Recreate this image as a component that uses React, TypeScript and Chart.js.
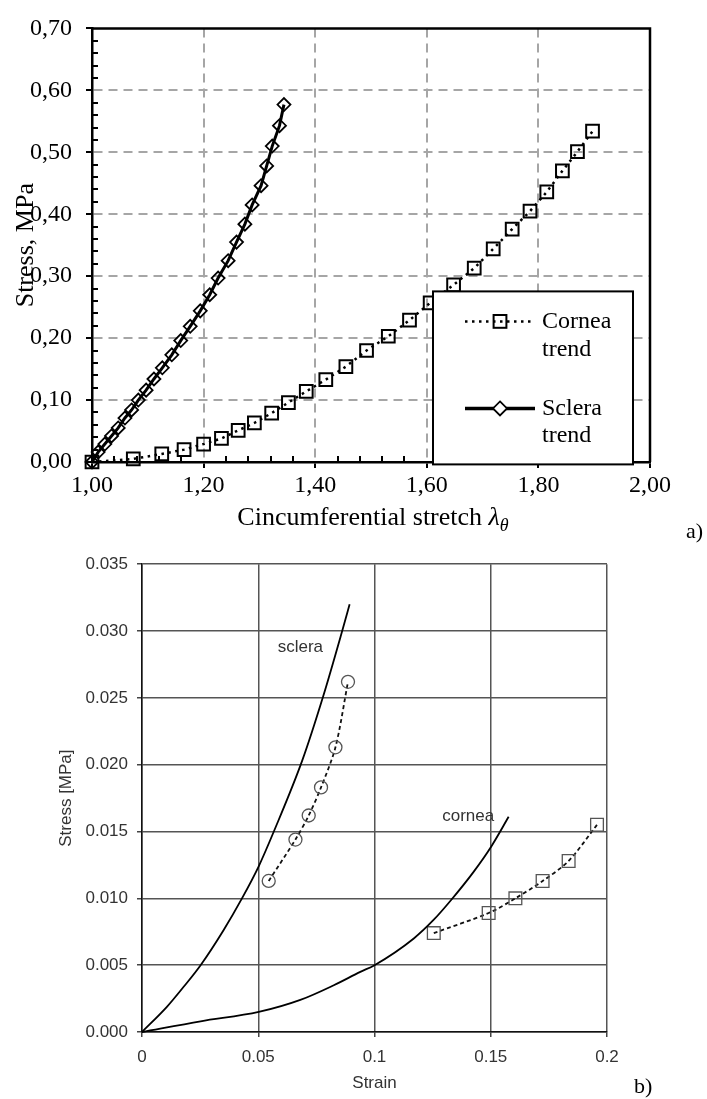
import React, { useEffect, useRef } from 'react';
import { Chart, registerables } from 'chart.js';
Chart.register(...registerables);

// ---------- Figure a) : stress vs circumferential stretch ----------
const corneaStretch = [1.0, 1.074, 1.125, 1.165, 1.2, 1.232, 1.262, 1.291, 1.322, 1.352, 1.384, 1.419, 1.455, 1.492, 1.531, 1.569, 1.606, 1.648, 1.685, 1.719, 1.753, 1.785, 1.815, 1.843, 1.87, 1.897];
const corneaStressA = [0.0, 0.005, 0.013, 0.02, 0.029, 0.038, 0.051, 0.063, 0.079, 0.096, 0.114, 0.133, 0.154, 0.18, 0.203, 0.229, 0.257, 0.286, 0.313, 0.344, 0.376, 0.405, 0.436, 0.47, 0.501, 0.534];
const scleraStretch = [1.0, 1.011, 1.023, 1.035, 1.047, 1.059, 1.071, 1.083, 1.097, 1.111, 1.126, 1.143, 1.159, 1.176, 1.194, 1.211, 1.226, 1.244, 1.259, 1.274, 1.287, 1.303, 1.313, 1.323, 1.336, 1.344];
const scleraStressA = [0.0, 0.016, 0.029, 0.042, 0.055, 0.071, 0.084, 0.1, 0.116, 0.134, 0.152, 0.173, 0.196, 0.219, 0.244, 0.27, 0.297, 0.325, 0.355, 0.384, 0.415, 0.446, 0.478, 0.51, 0.543, 0.577];
const legendLabelsA = [['Cornea', 'trend'], ['Sclera', 'trend']];

// ---------- Figure b) : stress vs strain ----------
const scleraModelStrain = [0, 0.0108, 0.018, 0.0252, 0.035, 0.043, 0.0502, 0.0567, 0.0689, 0.0779, 0.0861, 0.0893];
const scleraModelStress = [0, 0.0019, 0.0034, 0.0050, 0.0076, 0.0100, 0.0124, 0.0150, 0.0203, 0.0251, 0.0300, 0.0320];
const corneaModelStrain = [0, 0.0252, 0.0502, 0.0681, 0.0825, 0.0939, 0.1, 0.1169, 0.1255, 0.1326, 0.1427, 0.1503, 0.1577];
const corneaModelStress = [0, 0.0008, 0.0015, 0.0024, 0.0035, 0.0045, 0.0050, 0.0070, 0.0084, 0.0098, 0.0120, 0.0139, 0.0161];
const scleraExpStrain = [0.0545, 0.066, 0.0717, 0.077, 0.0832, 0.0886];
const scleraExpStress = [0.0113, 0.0144, 0.0162, 0.0183, 0.0213, 0.0262];
const corneaExpStrain = [0.1255, 0.1491, 0.1606, 0.1723, 0.1835, 0.1957];
const corneaExpStress = [0.0074, 0.0089, 0.01, 0.0113, 0.0128, 0.0155];
const curveLabelsB = ['sclera', 'cornea'];
const curveLabelPosB = [[0.0681, 0.0288], [0.1403, 0.0161]];

const SERIF = '"Liberation Serif", "Times New Roman", serif';
const SANS = '"Liberation Sans", Arial, sans-serif';

const pts = (xs: number[], ys: number[]) => xs.map((x, i) => ({ x, y: ys[i] }));
const near = (a: number, b: number) => Math.abs(a - b) < 1e-6;

const topDecor = {
  id: 'topDecor',
  beforeDatasetsDraw(chart: any) {
    const { ctx, chartArea: ca, scales } = chart;
    ctx.save();
    ctx.strokeStyle = '#000';
    ctx.lineWidth = 2;
    // minor ticks (inside)
    for (let i = 1; i < 35; i++) {
      if (i % 5 === 0) continue;
      const py = Math.round(scales.y.getPixelForValue(i * 0.02));
      ctx.beginPath();
      ctx.moveTo(ca.left, py);
      ctx.lineTo(ca.left + 6, py);
      ctx.stroke();
    }
    for (let i = 1; i < 25; i++) {
      if (i % 5 === 0) continue;
      const px = Math.round(scales.x.getPixelForValue(1 + i * 0.04));
      ctx.beginPath();
      ctx.moveTo(px, ca.bottom);
      ctx.lineTo(px, ca.bottom - 6);
      ctx.stroke();
    }
    // top & right frame
    ctx.lineWidth = 2.5;
    ctx.beginPath();
    ctx.moveTo(ca.left, ca.top);
    ctx.lineTo(ca.right, ca.top);
    ctx.lineTo(ca.right, ca.bottom);
    ctx.stroke();
    ctx.restore();
  },
  afterDraw(chart: any) {
    const { ctx, chartArea: ca } = chart;
    ctx.save();
    // legend box
    const lx = ca.right - 217, ly = ca.top + 263, lw = 200, lh = 173;
    ctx.fillStyle = '#fff';
    ctx.fillRect(lx, ly, lw, lh);
    ctx.strokeStyle = '#000';
    ctx.lineWidth = 2;
    ctx.strokeRect(lx, ly, lw, lh);
    const y1 = ly + 30, y2 = ly + 117;
    // cornea sample
    ctx.setLineDash([2.5, 4.5]);
    ctx.lineWidth = 2.5;
    ctx.beginPath();
    ctx.moveTo(lx + 32, y1);
    ctx.lineTo(lx + 100, y1);
    ctx.stroke();
    ctx.setLineDash([]);
    ctx.lineWidth = 2;
    ctx.strokeRect(lx + 67 - 6.4, y1 - 6.4, 12.8, 12.8);
    // sclera sample
    ctx.lineWidth = 3.5;
    ctx.beginPath();
    ctx.moveTo(lx + 32, y2);
    ctx.lineTo(lx + 102, y2);
    ctx.stroke();
    ctx.lineWidth = 1.8;
    ctx.beginPath();
    const dx = lx + 67;
    ctx.moveTo(dx, y2 - 7);
    ctx.lineTo(dx + 7, y2);
    ctx.lineTo(dx, y2 + 7);
    ctx.lineTo(dx - 7, y2);
    ctx.closePath();
    ctx.fillStyle = '#fff';
    ctx.fill();
    ctx.stroke();
    ctx.fillStyle = '#000';
    ctx.font = `24px ${SERIF}`;
    ctx.textBaseline = 'middle';
    ctx.textAlign = 'left';
    ctx.fillText(legendLabelsA[0][0], lx + 109, y1);
    ctx.fillText(legendLabelsA[0][1], lx + 109, y1 + 28);
    ctx.fillText(legendLabelsA[1][0], lx + 109, y2);
    ctx.fillText(legendLabelsA[1][1], lx + 109, y2 + 27);

    // x title
    ctx.textBaseline = 'alphabetic';
    const main = 'Cincumferential stretch ';
    ctx.font = `26px ${SERIF}`;
    const w1 = ctx.measureText(main).width;
    ctx.font = `italic 26px ${SERIF}`;
    const w2 = ctx.measureText('λ').width;
    ctx.font = `italic 18px ${SERIF}`;
    const w3 = ctx.measureText('θ').width;
    let x = (ca.left + ca.right) / 2 - (w1 + w2 + w3) / 2 + 2;
    const by = ca.bottom + 63;
    ctx.font = `26px ${SERIF}`;
    ctx.fillText(main, x, by);
    x += w1;
    ctx.font = `italic 26px ${SERIF}`;
    ctx.fillText('λ', x, by);
    x += w2;
    ctx.font = `italic 18px ${SERIF}`;
    ctx.fillText('θ', x, by + 6);

    // y title
    ctx.save();
    ctx.translate(33, (ca.top + ca.bottom) / 2);
    ctx.rotate(-Math.PI / 2);
    ctx.font = `26px ${SERIF}`;
    ctx.textAlign = 'center';
    ctx.fillText('Stress, MPa', 0, 0);
    ctx.restore();

    // panel letter
    ctx.font = `22px ${SERIF}`;
    ctx.textAlign = 'left';
    ctx.fillText('a)', 686, 538);
    ctx.restore();
  },
};

const botDecor = {
  id: 'botDecor',
  afterDraw(chart: any) {
    const { ctx, chartArea: ca, scales } = chart;
    ctx.save();
    ctx.fillStyle = '#333';
    ctx.font = `17px ${SANS}`;
    ctx.textAlign = 'center';
    ctx.textBaseline = 'middle';
    ctx.fillText('Strain', (ca.left + ca.right) / 2, 538);
    curveLabelsB.forEach((t, i) => {
      ctx.fillText(t, scales.x.getPixelForValue(curveLabelPosB[i][0]), scales.y.getPixelForValue(curveLabelPosB[i][1]));
    });
    ctx.save();
    ctx.translate(66, (ca.top + ca.bottom) / 2);
    ctx.rotate(-Math.PI / 2);
    ctx.fillText('Stress [MPa]', 0, 0);
    ctx.restore();
    ctx.fillStyle = '#000';
    ctx.font = `22px ${SERIF}`;
    ctx.textAlign = 'left';
    ctx.textBaseline = 'alphabetic';
    ctx.fillText('b)', 634, 548);
    ctx.restore();
  },
};

function topConfig(): any {
  const gridCol = (edges: number[]) => (c: any) =>
    c.tick && edges.some((e) => near(c.tick.value, e)) ? 'rgba(0,0,0,0)' : '#a6a6a6';
  return {
    type: 'scatter',
    data: {
      datasets: [
        {
          label: 'Cornea trend',
          data: pts(corneaStretch, corneaStressA),
          showLine: true,
          borderColor: '#000',
          borderWidth: 2.5,
          borderDash: [2.5, 4.5],
          pointStyle: 'rect',
          pointRadius: 9,
          pointBorderWidth: 2,
          pointBorderColor: '#000',
          pointBackgroundColor: 'rgba(0,0,0,0)',
          clip: false,
        },
        {
          label: 'Sclera trend',
          data: pts(scleraStretch, scleraStressA),
          showLine: true,
          borderColor: '#000',
          borderWidth: 3,
          pointStyle: 'rectRot',
          pointRadius: 6.5,
          pointBorderWidth: 1.8,
          pointBorderColor: '#000',
          pointBackgroundColor: 'rgba(0,0,0,0)',
          clip: false,
        },
      ],
    },
    options: {
      responsive: false,
      animation: false,
      devicePixelRatio: 1,
      events: [],
      layout: { padding: { top: 16, right: 57, left: 0, bottom: 0 } },
      plugins: { legend: { display: false }, tooltip: { enabled: false } },
      scales: {
        x: {
          type: 'linear',
          min: 1,
          max: 2,
          ticks: {
            stepSize: 0.2,
            autoSkip: false,
            maxRotation: 0,
            padding: 3,
            color: '#000',
            font: { family: SERIF, size: 24 },
            callback: (v: number) => v.toFixed(2).replace('.', ','),
          },
          grid: { color: gridCol([1, 2]), lineWidth: 2, tickColor: '#000', tickLength: 6, tickWidth: 2 },
          border: { color: '#000', width: 2.5, dash: [9, 6] },
          afterFit: (s: any) => { s.height = 88; },
        },
        y: {
          type: 'linear',
          min: 0,
          max: 0.7,
          ticks: {
            stepSize: 0.1,
            autoSkip: false,
            padding: 14,
            color: '#000',
            font: { family: SERIF, size: 24 },
            callback: (v: number) => v.toFixed(2).replace('.', ','),
          },
          grid: { color: gridCol([0, 0.7]), lineWidth: 2, tickColor: '#000', tickLength: 6, tickWidth: 2 },
          border: { color: '#000', width: 2.5, dash: [9, 6] },
          afterFit: (s: any) => { s.width = 92; },
        },
      },
    },
    plugins: [topDecor],
  };
}

function botConfig(): any {
  const model = {
    showLine: true,
    borderColor: '#000',
    borderWidth: 1.8,
    pointRadius: 0,
    cubicInterpolationMode: 'monotone',
    clip: false,
  };
  const exp = {
    showLine: true,
    borderColor: '#111',
    borderWidth: 1.8,
    borderDash: [4, 3],
    tension: 0.3,
    pointBorderColor: '#555',
    pointBorderWidth: 1.3,
    pointBackgroundColor: 'rgba(0,0,0,0)',
    clip: false,
  };
  return {
    type: 'scatter',
    data: {
      datasets: [
        { ...model, label: 'sclera model', data: pts(scleraModelStrain, scleraModelStress) },
        { ...model, label: 'cornea model', data: pts(corneaModelStrain, corneaModelStress) },
        { ...exp, label: 'sclera exp', data: pts(scleraExpStrain, scleraExpStress), pointStyle: 'circle', pointRadius: 6.5 },
        { ...exp, label: 'cornea exp', data: pts(corneaExpStrain, corneaExpStress), pointStyle: 'rect', pointRadius: 9 },
      ],
    },
    options: {
      responsive: false,
      animation: false,
      devicePixelRatio: 1,
      events: [],
      layout: { padding: { top: 14, right: 100, left: 0, bottom: 0 } },
      plugins: { legend: { display: false }, tooltip: { enabled: false } },
      scales: {
        x: {
          type: 'linear',
          min: 0,
          max: 0.2,
          ticks: {
            stepSize: 0.05,
            autoSkip: false,
            maxRotation: 0,
            padding: 10,
            color: '#333',
            font: { family: SANS, size: 17 },
            callback: (v: number) => String(+v.toFixed(2)),
          },
          grid: { color: '#555', lineWidth: 1.5, tickColor: '#444', tickLength: 5, tickWidth: 1.5 },
          border: { color: '#111', width: 1.5 },
          afterFit: (s: any) => { s.height = 67; },
        },
        y: {
          type: 'linear',
          min: 0,
          max: 0.035,
          ticks: {
            stepSize: 0.005,
            autoSkip: false,
            padding: 9,
            color: '#333',
            font: { family: SANS, size: 17 },
            callback: (v: number) => v.toFixed(3),
          },
          grid: { color: '#555', lineWidth: 1.5, tickColor: '#444', tickLength: 5, tickWidth: 1.5 },
          border: { color: '#111', width: 1.5 },
          afterFit: (s: any) => { s.width = 142; },
        },
      },
    },
    plugins: [botDecor],
  };
}

export default function App() {
  const topRef = useRef<HTMLCanvasElement>(null);
  const botRef = useRef<HTMLCanvasElement>(null);
  useEffect(() => {
    const c1 = new Chart(topRef.current as HTMLCanvasElement, topConfig());
    const c2 = new Chart(botRef.current as HTMLCanvasElement, botConfig());
    return () => {
      c1.destroy();
      c2.destroy();
    };
  }, []);
  return (
    <div style={{ position: 'absolute', left: 0, top: 0, width: 707, height: 1099, background: '#fff' }}>
      <canvas ref={topRef} width={707} height={550} style={{ position: 'absolute', left: 0, top: 0 }} />
      <canvas ref={botRef} width={707} height={554} style={{ position: 'absolute', left: 0, top: 545 }} />
    </div>
  );
}
